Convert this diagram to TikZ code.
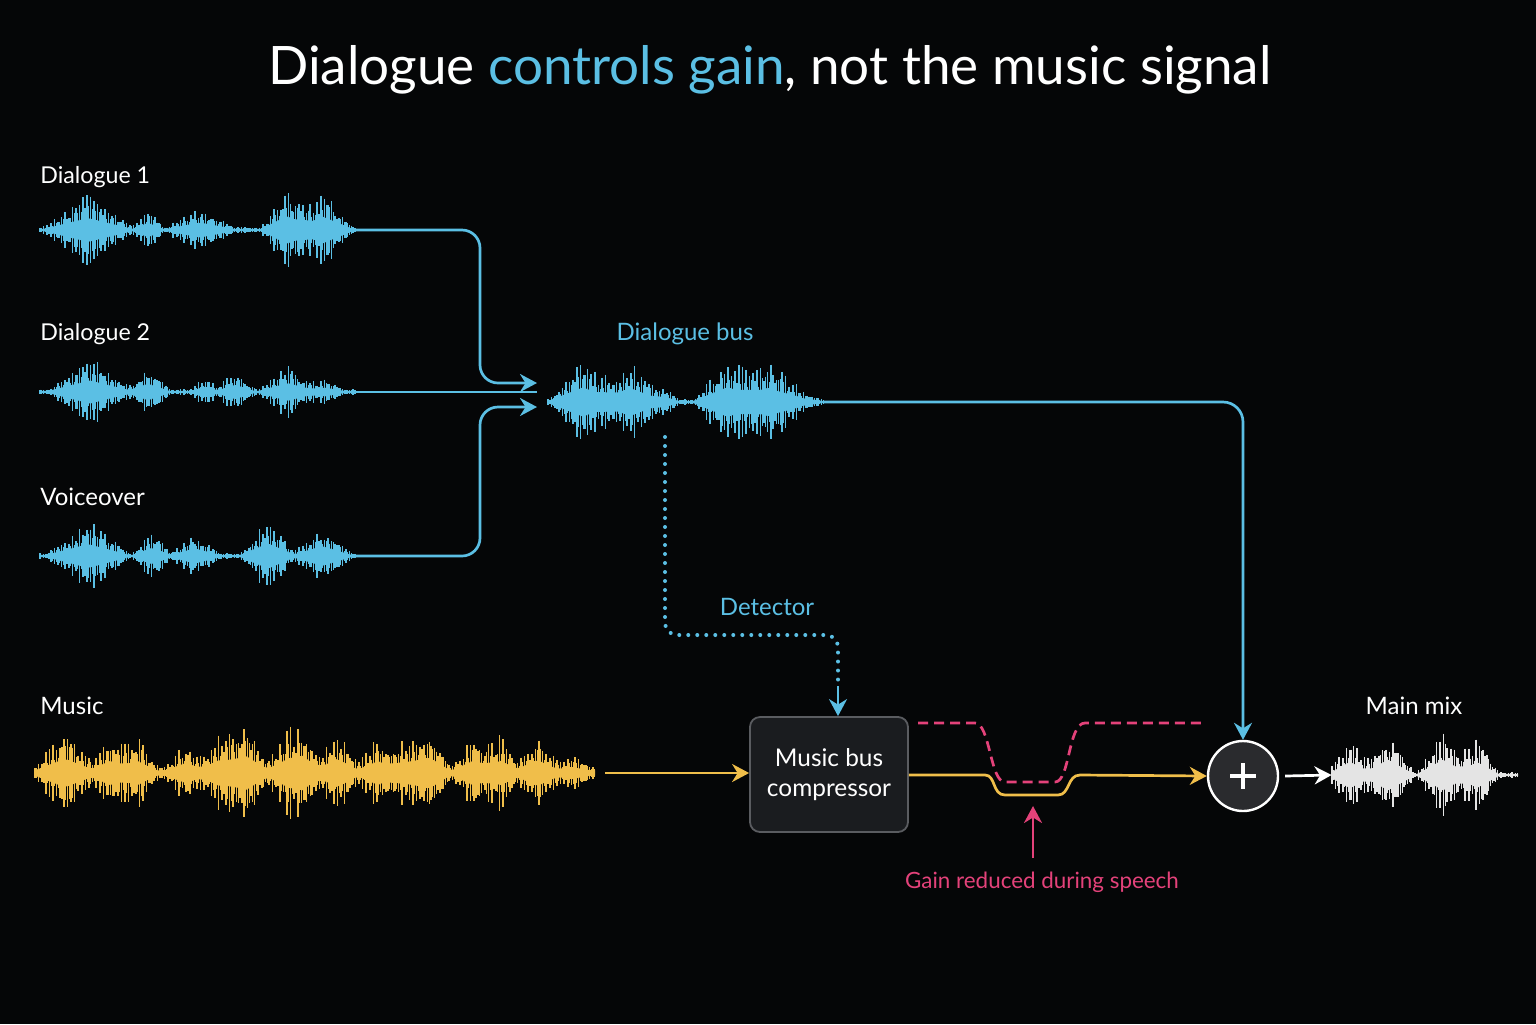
\documentclass[tikz,border=0pt]{standalone}
\usepackage{fontspec}
\setmainfont{Lato}
\usetikzlibrary{arrows.meta,calc}
\definecolor{bg}{HTML}{050607}
\definecolor{cy}{HTML}{5BBFE4}
\definecolor{gd}{HTML}{F0BE4A}
\definecolor{pk}{HTML}{E4427A}
\definecolor{wt}{HTML}{E4E4E4}
\definecolor{boxfill}{HTML}{1A1C1F}
\definecolor{boxline}{HTML}{5A5C60}
\definecolor{sumfill}{HTML}{2A2B2E}

\newcommand{\wave}[6]{% x0, x1, y, color, envelope in \x, seed
  \pgfmathsetseed{#6}
  \draw[#4, line width=0.7pt] (#1,#3) -- (#2,#3);
  \fill[#4] plot[domain=#1:#2, samples=120] (\x,{#3-0.34*(#5)})
     -- plot[domain=#2:#1, samples=120] (\x,{#3+0.34*(#5)}) -- cycle;
  \pgfmathtruncatemacro{\wn}{(#2-#1)/3.6}
  \foreach \i in {0,...,\wn}{
    \pgfmathsetmacro{\x}{#1+3.6*\i}
    \pgfmathsetmacro{\wa}{(#5)*(0.55+0.5*rnd)}
    \pgfmathsetmacro{\wb}{(#5)*(0.42+0.3*rnd)}
    \draw[#4, line width=0.75pt] (\x,#3-\wa) -- (\x,#3+\wa);
    \draw[#4, line width=0.6pt] (\x+1.8,#3-\wb) -- (\x+1.8,#3+\wb);
  }
}

\begin{document}
\begin{tikzpicture}[x=0.5pt,y=-0.5pt,
  declare function={bump(\pa,\pb,\pc)=max(0,1-abs(\pa-\pb)/\pc);},
  lbl/.style={font=\fontsize{12}{14}\selectfont, text=white, inner sep=0pt},
  cyline/.style={cy, line width=1.35pt, rounded corners=9pt},
  arr/.style={-{Stealth[length=8.5pt,width=9pt]}},
  wbox/.style={inner sep=0pt, minimum height=40pt},
]
\fill[bg] (0,0) rectangle (1536,1024);
\useasboundingbox (0,0) rectangle (1536,1024);

% title
\node[font=\fontsize{26.5}{32}\selectfont, text=white, inner sep=0pt] (title) at (770,70)
  {Dialogue \textcolor{cy}{controls gain}, not the music signal};

% labels
\node[lbl, anchor=west, font=\fontsize{11.6}{14}\selectfont] (l1) at (40,177) {Dialogue 1};
\node[lbl, anchor=west, font=\fontsize{11.6}{14}\selectfont] (l2) at (40,334) {Dialogue 2};
\node[lbl, anchor=west] (l3) at (40,497) {Voiceover};
\node[lbl, anchor=west] (l4) at (40,706) {Music};
\node[lbl] (l5) at (1414,706) {Main mix};
\node[lbl, text=cy] (l6) at (685,334) {Dialogue bus};
\node[lbl, text=cy] (l7) at (767,607) {Detector};
\node[lbl, text=pk, font=\fontsize{11.2}{14}\selectfont] (l8) at (1042,882) {Gain reduced during speech};

% waveforms
\wave{40}{355}{230}{cy}{3+32*bump(\x,88,45)+18*bump(\x,148,16)+19*bump(\x,200,35)+38*bump(\x,287,26)+36*bump(\x,323,30)}{3}
\wave{40}{355}{392}{cy}{3+31*bump(\x,90,42)+21*bump(\x,148,22)+13*bump(\x,205,14)+18*bump(\x,235,20)+23*bump(\x,288,30)+10*bump(\x,325,20)}{5}
\wave{40}{355}{556}{cy}{3+32*bump(\x,88,42)+21*bump(\x,152,20)+19*bump(\x,195,26)+34*bump(\x,268,28)+26*bump(\x,322,30)}{7}
\wave{548}{823}{402}{cy}{3+40*bump(\x,583,35)+38*bump(\x,630,35)+12*bump(\x,665,14)+41*bump(\x,728,35)+39*bump(\x,768,33)+10*bump(\x,798,25)}{11}
\wave{35}{595}{773}{gd}{8+34*bump(\x,65,30)+28*bump(\x,110,20)+30*bump(\x,136,20)+22*bump(\x,186,20)+30*bump(\x,219,22)+44*bump(\x,245,24)+30*bump(\x,286,22)+38*bump(\x,304,20)+34*bump(\x,337,22)+27*bump(\x,378,22)+27*bump(\x,404,20)+40*bump(\x,428,22)+29*bump(\x,474,22)+29*bump(\x,500,20)+31*bump(\x,537,22)+10*bump(\x,571,20)}{13}
\wave{1332}{1518}{775}{wt}{3+36*bump(\x,1350,22)+42*bump(\x,1388,26)+42*bump(\x,1443,26)+35*bump(\x,1477,22)}{17}

% anchor nodes over the waveforms
\node[wbox, minimum width=157.5pt] (d1) at (197.5,230) {};
\node[wbox, minimum width=157.5pt] (d2) at (197.5,392) {};
\node[wbox, minimum width=157.5pt] (vo) at (197.5,556) {};
\node[wbox, minimum width=137.5pt] (bus) at (685.5,402) {};
\node[wbox, minimum width=280pt] (mus) at (315,773) {};
\node[wbox, minimum width=93pt] (mix) at (1425,775) {};
\coordinate (busin1) at (537,383);
\coordinate (busin2) at (537,392);
\coordinate (busin3) at (537,407);
\coordinate (detS) at (665,437);

% compressor box & sum
\node[draw=boxline, fill=boxfill, line width=0.9pt, rounded corners=5pt,
      minimum width=79pt, minimum height=57.5pt, align=center,
      font=\fontsize{12.2}{15}\selectfont, text=white] (comp) at (829,774.5) {Music bus\\compressor};
\node[circle, draw=white, fill=sumfill, line width=1.2pt, minimum size=35pt, inner sep=0pt] (sum) at (1243,776) {};
\draw[white, line width=1.6pt] ($(sum)+(-13,0)$) -- ($(sum)+(13,0)$) ($(sum)+(0,-13)$) -- ($(sum)+(0,13)$);

% dialogue connectors
\draw[cyline, arr] (d1.east) -- (480,230) -- (480,383) -- (busin1);
\draw[cy, line width=1.35pt] (d2.east) -- (busin2);
\draw[cyline, arr] (vo.east) -- (480,556) -- (480,407) -- (busin3);
\draw[cyline, rounded corners=10pt, arr] (bus.east |- 0,402) -- (1243,402) -- (sum.north);

% detector
\draw[cy, line width=2pt, dash pattern=on 0pt off 4.5pt, line cap=round, rounded corners=6pt]
  (detS) -- (665,635) -- (838,635) -- (838,688);
\draw[cy, line width=1.3pt, arr] (838,686) -- (comp.north -| 838,0);

% music connectors
\draw[gd, line width=1.35pt, arr] (605,773) -- (comp.west |- 0,773);
\draw[gd, line width=1.35pt, arr] (comp.east |- 0,775) -- (985,775)
  .. controls (996,775) and (992,795) .. (1005,795) -- (1058,795)
  .. controls (1070,795) and (1067,775) .. (1080,775) -- (sum.west);
\draw[pk, line width=1.35pt, dash pattern=on 5pt off 3pt] (918,723) -- (975,723)
  .. controls (990,723) and (990,782) .. (1005,782) -- (1055,782)
  .. controls (1070,782) and (1068,723) .. (1085,723) -- (1203,723);
\draw[pk, line width=1.35pt, arr] (1033,858) -- (1033,806);
\draw[white, line width=1.35pt, arr] (sum.east) ++(6,0) -- (mix.west);
\end{tikzpicture}
\end{document}
